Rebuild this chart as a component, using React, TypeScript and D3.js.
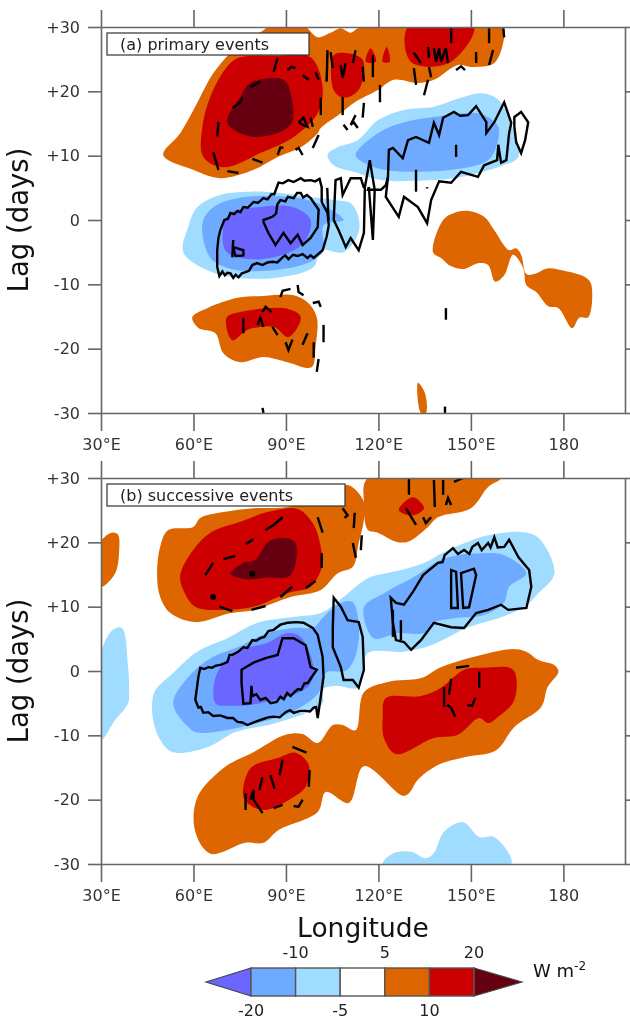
import React from 'react'
import * as d3 from 'd3'

type Pt = [number, number]

const lonTicks = [30, 60, 90, 120, 150, 180]
const lagTicks = [30, 20, 10, 0, -10, -20, -30]
const legendLevels = [-20, -10, -5, 5, 10, 20]

const PURPLE = '#6a66ff'
const BLUE = '#6eaaff'
const SKY = '#a0dcff'
const ORANGE = '#dd6600'
const RED = '#cc0000'
const DARK = '#660011'
const legendColors = [BLUE, SKY, '#ffffff', ORANGE, RED]

// panel (a) shaded regions, [lon, lag]
const aSkyUpper: Pt[] = [[103.5,10.1],[106.8,11.3],[113.3,12.4],[119.8,15.5],[128.3,17.1],[138,17.6],[146.8,19],[153.3,19.7],[158.9,18.7],[164.1,13.5],[165.4,9.8],[160.5,8.5],[152.3,7.3],[144.5,6.5],[131.5,6.1],[120.8,6.2],[113.3,7.3],[105.5,8.5]]
const aBlueUpper: Pt[] = [[112.6,10.1],[119.8,13.5],[128.3,15.2],[138,16],[147.8,16.6],[154.3,16.3],[158.9,14.5],[158.2,11.3],[155.6,9.3],[149.1,8.2],[133.8,7.5],[121.8,7.8],[115.3,8.9]]
const aSkyLower: Pt[] = [[56.7,-5],[58.3,-1.1],[61.2,2],[68.7,3.9],[78.5,4.4],[88.2,4.2],[97,3.6],[105.5,3.1],[111,2.6],[113.3,0.8],[113.6,-1.9],[108.7,-5],[101.3,-4.7],[99,-7.3],[88.2,-8.9],[75.2,-9],[64.5,-7.8]]
const aBlueLower: Pt[] = [[63.2,0],[66.4,2],[74.3,3.4],[90.5,3.6],[100.3,2.6],[108.7,0],[102.2,-0.8],[102.2,-4.7],[99,-6.2],[90.5,-7.5],[74.3,-7.8],[66.1,-6.2],[63.2,-3.1]]
const aPurple: Pt[] = [[69.7,-1.1],[72,1.1],[80.8,2],[92.5,2],[98,0],[95.7,-3.6],[86,-5.8],[75.2,-5.9],[70.3,-4.7]]
const aOrangeUpper: Pt[] = [[50.2,10.1],[55.7,13.5],[61.2,18.2],[66.4,22.8],[73,26.4],[82.7,29.5],[84.3,30],[96.4,30],[97,29.8],[100.3,28.4],[104.5,29.1],[107.8,29.8],[111,29.1],[113.3,29.8],[114.9,30],[160.5,30],[160.8,28.4],[157.6,24.4],[150,23.8],[145.8,24.1],[138,21.8],[132.8,21.3],[125,21.8],[119.8,20.2],[112,18.2],[107.8,16.6],[101.3,14.3],[100.3,13.5],[94.8,11.3],[87.3,9.8],[79.5,7.8],[68.7,6.5],[59.9,7.8]]
const aRedUpper: Pt[] = [[62.9,14.5],[66.4,20.2],[72,24.4],[75.2,25.3],[87.3,25.5],[98,25.3],[101.9,20.7],[100.3,16.6],[92.5,12.9],[81.7,10.4],[69.7,8.2],[63.2,9.8]]
const aDark: Pt[] = [[71,15.1],[75.2,19.1],[78.5,21.3],[89.2,21.8],[91.8,19.1],[91.5,14.8],[79.5,12.9]]
const aRedMid: Pt[] = [[105.5,25.6],[108.7,26],[114.9,24.9],[113.6,20.2],[108.7,19],[105.5,20.2]]
const aRedTri1: Pt[] = [[117.5,26.7],[119.2,24.6],[115.9,24.6]]
const aRedTri2: Pt[] = [[122.7,26.9],[123.7,24.6],[121.4,24.6]]
const aRedTop: Pt[] = [[129.6,30],[151,30],[142.9,24.4],[130.5,24.6]]
const aOrangeLower: Pt[] = [[59.6,-15.1],[64.5,-13.7],[74.3,-12.1],[82.7,-11.8],[92.5,-11.7],[97,-12.8],[100,-15.1],[99.6,-19.7],[98.3,-22.9],[90.5,-22.1],[82.7,-21.3],[75.2,-22.1],[69.7,-20.7],[67.1,-17.6],[61.6,-16.8]]
const aRedLower: Pt[] = [[70.7,-15.2],[75.2,-14.3],[90.5,-13.8],[94.8,-15.1],[90.8,-18.2],[86,-16.6],[77.5,-17.1],[72.6,-18.7]]
const aOrangeRight: Pt[] = [[137.7,-5],[141,0],[144.5,1.1],[149.4,1.4],[154.3,0.5],[157.6,-1.6],[162.4,-4.7],[164.7,-4.4],[166.3,-5.4],[168,-8.4],[170.6,-8.4],[175.1,-7.5],[180.3,-7.9],[187.5,-9],[189.1,-10.1],[188.1,-15.1],[185.2,-15.2],[182.9,-16.8],[178.4,-13.7],[175.1,-13.4],[171.2,-11.2],[168,-10.1],[167,-7.5],[163.7,-5.4],[160.8,-8.6],[157.9,-9.6],[155.6,-7],[152.7,-6.7],[147.8,-7.6],[143.6,-7.2],[140.3,-5.9]]
const aOrangeSliver: Pt[] = [[132.8,-25.3],[135.1,-26.9],[135.4,-30],[133.8,-30]]

// panel (a) significance contours
const aLoopOuter: Pt[] = [[68.4,-8.7],[67.7,-7.3],[67.7,-4.7],[68.1,-2.8],[68.7,-1.6],[70,0],[71.2,0.2],[72,1.1],[73.2,0.9],[74.3,1.4],[75.2,1.2],[76.2,2],[77.6,1.9],[79.5,2.8],[81,2.7],[82.7,3.4],[84,3.2],[85.3,4],[86.2,4],[87.6,5.8],[89,5.7],[90.8,6.2],[92.5,5.9],[94.8,6.5],[96,6.1],[98,6.2],[99.5,6],[100.9,6.4],[101.6,5.1],[101.6,2.8],[103.5,1.1],[103.9,-0.8],[103.2,-2.6],[101.9,-4.7],[99,-5.9],[98,-5.5],[97,-5.9],[95.4,-5.3],[93.8,-5.6],[92.3,-5.4],[90.8,-6.1],[89.8,-5.5],[88.9,-5.8],[87.2,-6.6],[85.6,-6.5],[84,-6.6],[82.4,-7],[80.6,-6.7],[79.1,-7],[78,-7.9],[76.9,-8.1],[75.7,-8.3],[74.6,-8.9],[73.7,-8.5],[72.9,-9],[72,-8.3],[71,-8.2],[70.2,-8.6],[69.4,-8]]
const aLoopInner: Pt[] = [[82.7,0],[85.6,0.5],[86.8,1],[87.2,2.4],[88.2,3.1],[89.8,2.9],[90.6,3.6],[92.5,3.4],[93.6,4.2],[94.8,4.2],[95.6,3.5],[96.8,3.9],[98,3.4],[100.6,1.6],[100.3,-1.1],[98,-2.8],[95.4,-3.9],[93.8,-2.3],[91.5,-3.6],[89.2,-2],[86.6,-3.9],[84.3,-2],[82.7,-0.3]]
const aLoopSmall: Pt[] = [[72.9,-4.2],[76.2,-4.7],[76.2,-5.5],[73.6,-5.6]]
const aLoopBig: Pt[] = [[123.4,10.9],[124.7,11.2],[127.9,9.6],[129.6,12.4],[132.2,12.9],[136.4,12],[138,15.1],[139.7,13.2],[141,15.9],[144.5,16.8],[146.5,16.2],[149.1,16.3],[151.7,17.7],[155,15.2],[155,13.5],[157.6,15.2],[160.8,18.3],[163.1,15.1],[162.4,13.5],[161.5,9.3],[159.8,8.9],[158.9,11.7],[158.5,9.3],[154.3,8.5],[152.3,6.7],[146.8,7.5],[143.6,5.8],[139.7,6],[137.1,3.1],[135.8,-0.5],[132.8,2],[128.3,3.6],[126.6,0.5],[122.4,3.6],[123.1,6.7]]
const aLoopRing: Pt[] = [[164.1,16],[166.3,16.8],[168.6,15.2],[167.6,12.4],[166.3,10.4],[164.7,12.1],[164.1,14.5]]
const aWiggleUpper: Pt[] = [[105.5,0],[106.1,6.2],[107.8,6.5],[108.4,3.9],[111,6.5],[114.3,6.5],[115.3,5]]
const aWiggleLower: Pt[] = [[105.5,0],[107.1,-1.6],[109.4,-4.2],[111,-2.8],[113.6,-4.7],[115.3,-2],[115.6,5.1],[117.2,9.3],[118.8,4.7],[118.2,-3.1],[116.9,5.1],[116.6,4.7],[120.8,4.7],[122.4,5.4],[123.1,6.7]]
const aThickSeg: Pt[] = [[103.4,5],[103.8,0]]

const aDashes: Pt[][] = [
  [[86,23],[87.3,25.2]], [[90.5,23.3],[91.8,23.8],[93.1,23.6]], [[95.4,22.5],[97.4,21.8]], [[99.6,23],[100.6,21.8]],
  [[101.3,19],[101.3,16.3]], [[94.1,15.2],[95.7,15.9],[97,14.5],[95.4,14.8],[94.1,15.2]], [[98,15.9],[98.7,14.5]],
  [[100.6,13.2],[98.7,11.2]], [[95.4,10.1],[94.1,11.2],[93.1,10.9]], [[87.3,10.1],[88.2,11.3],[89.2,11.2]],
  [[79.1,9.5],[82.4,8.9]], [[71,7.6],[74.6,7.3]], [[66.4,10.6],[68.1,7.8]], [[68.1,15.2],[67.7,13]],
  [[72.6,17.4],[75.2,18.3],[75.9,19]], [[78.5,20.7],[81.7,21.5]],
  [[103.5,26.4],[103.2,21.5]], [[104.5,26.1],[105.2,23.6]], [[107.8,24.1],[108.4,22.1],[109.4,24.4]],
  [[112.6,26.4],[111.7,24.4]], [[114.9,23.8],[115.3,21.5]], [[118.2,25.6],[118.2,22.2]], [[108.4,19.1],[108.4,16.3]],
  [[115.3,18.2],[114.9,15.9]], [[112.6,16.3],[111,14.8],[112,15.2],[113.3,14.3]], [[108.7,14.8],[110,14]],
  [[120.5,21],[120.5,18.3]], [[143.6,29.8],[143.6,27.5]], [[155.9,29.8],[155.9,27.5]], [[160.5,29.8],[160.8,28.4]],
  [[131.5,26],[133.8,24.4]], [[131.5,23.6],[132.2,21]], [[136.1,26.9],[136.4,25.2]], [[136.4,23.8],[137.1,22.2]],
  [[136.1,21.8],[134.8,19.4]], [[138,26.7],[138.7,24.6],[139.7,26.7],[140.3,24.6],[141.9,26.7],[142.6,24.4]],
  [[145.2,23.3],[146.8,23.9],[148.1,23.3]], [[151.7,26.1],[151.7,24.4]], [[157.2,26.4],[155.9,24.1]],
  [[88.2,-12],[88.9,-11],[91.5,-10.7]], [[93.8,-10.1],[94.1,-11.2],[95.7,-11.7]], [[98.7,-12.9],[100.6,-12.7],[101.3,-13.5]],
  [[102.2,-16.3],[102.2,-19]], [[99,-19],[99,-21.4]], [[100.6,-21.6],[100,-23.6]], [[97,-17.6],[95.4,-19.4]],
  [[89.9,-19],[90.8,-20.2],[92.1,-18.6]], [[85.6,-16.6],[87.3,-17.9]], [[80.8,-16.3],[81.7,-15.2],[82.7,-16.6]],
  [[82.4,-14.3],[83.4,-13.5],[85.3,-14.3]], [[76.2,-15.2],[76.2,-17.6]], [[82.4,-29.2],[82.7,-30]],
  [[141.9,-13.7],[141.9,-15.5]], [[141.6,-29],[141.6,-30]], [[145.2,11.7],[145.2,9.8]], [[132.2,7.8],[132.2,4.4]],
  [[135.8,5.1],[135.8,4.9]], [[72.9,-3.1],[72.6,-5.8]]
]

// panel (b) shaded regions
const bSkyLeft: Pt[] = [[30,2.8],[33.9,6.4],[36.8,6.7],[38.8,0.6],[39.1,-3],[38.8,-5],[34.6,-7.6],[30,-10.7]]
const bSkyMain: Pt[] = [[46.6,-5],[47.6,-3],[53.4,-0.3],[61.2,3],[71,5.1],[80.8,7.5],[92.5,8.4],[101.3,9],[108.7,11.5],[114.3,13.7],[117.5,14.6],[127.3,15.7],[134.8,16.8],[141.3,18.5],[149.1,20.1],[155.6,21.1],[166.3,21.6],[171.9,20.7],[177.1,15.2],[171.9,12.1],[167.3,10],[158.9,8.2],[149.1,6.8],[137.1,4],[128.3,3],[116.6,2.8],[114.9,0.2],[113.3,-2.6],[106.1,-2.3],[101.9,-2.9],[101.9,-5],[86.6,-8.1],[73.6,-9.5],[64.8,-11.8],[53.1,-12.6],[49.2,-10.7],[46.9,-7.6]]
const bSkyBottom: Pt[] = [[121.4,-30],[125,-28.3],[130.6,-28.1],[135.4,-29.1],[138,-28.3],[141.3,-25],[147.5,-23.5],[152.7,-25.8],[157.6,-25.8],[163.1,-30]]
const bBlueMain: Pt[] = [[53.4,-5],[59,-0.6],[66.4,2.2],[74.3,3.7],[84,5.9],[92.5,6.7],[99,6.8],[102.2,8.4],[107.8,10.6],[111.7,10.7],[113.6,4.8],[110,0.2],[102.9,-0.3],[100.6,-3.4],[93.1,-6.1],[82.4,-7.9],[61.6,-9.6],[58.3,-8.7]]
const bBlueRight: Pt[] = [[115.3,9.9],[121.8,12.1],[131.5,14.6],[140.3,17.3],[145.8,18],[153.3,18.3],[160.8,18],[168,15.2],[162.4,13.1],[160.8,10.7],[154.3,8.7],[144.5,8.2],[138,7.5],[134.8,5.9],[126.3,5.9],[118.5,5.1]]
const bPurple: Pt[] = [[67.1,-5],[67.7,-0.3],[74.3,3],[84,4.4],[90.5,5.9],[94.8,5.3],[99,0.2],[97,-2.5],[81.7,-5],[72,-5.4]]
const bOrangeLeft: Pt[] = [[30,20.1],[33.6,21.5],[35.5,21.2],[35.9,18.8],[34.6,15.2],[30,13.1]]
const bOrangeBig: Pt[] = [[48.2,14.6],[49.2,19.3],[51.8,21.9],[59.9,22.4],[62.2,23.8],[69.7,24.7],[79.5,25.3],[90.5,25.5],[101.3,27],[110,28.9],[115.3,26.3],[115.3,23.5],[113.6,19.9],[111.7,16.2],[106.8,15.2],[101.3,12.6],[91.5,11.5],[79.5,9.5],[72,9],[60.6,7.6],[52.5,9],[49.2,11.5]]
const bOrangeTop: Pt[] = [[116.6,30],[159.8,30],[155.6,28.6],[150,25.3],[139.3,23.9],[136.1,22.4],[129.6,20.1],[125.7,20.1],[119.8,21.5],[116.6,21.9],[115.3,26.1]]
const bRedTop: Pt[] = [[126.6,25],[131.2,27],[134.8,25.3],[131.2,24.2]]
const bRedBig: Pt[] = [[55.7,14.9],[59.9,18.8],[65.5,21.5],[75.2,23.2],[84,24.7],[93.8,25.2],[98.7,23],[101.3,19.3],[101.6,16.2],[98,13.1],[90.5,12.1],[79.5,10],[69.7,9.5],[60.6,10],[56.7,12.6]]
const bDark: Pt[] = [[72,15.2],[76.2,16.8],[80.1,17.3],[84.3,20.1],[89.2,20.7],[93.1,19.9],[91.5,14.9],[84,14.5],[76.2,14.3]]
const bOrangeLower: Pt[] = [[60.6,-25],[61.2,-19.7],[70.3,-14.9],[79.1,-12.7],[89.9,-9.9],[95.4,-9.8],[100.3,-11.2],[105.2,-8.4],[108.4,-8.4],[112.6,-9.2],[115.3,-3.3],[123.1,-1.7],[133.8,-1.1],[140.3,0.6],[153.3,2.5],[163.1,3.4],[168,3],[171.9,1.7],[177.1,0.9],[178.4,-0.1],[174.9,-2.5],[172.8,-5.6],[164.1,-8.7],[158.2,-12.3],[147.8,-13.4],[139.3,-14.6],[132.8,-16.9],[129.9,-19],[127.9,-19.4],[115.3,-14.8],[110.4,-20.5],[102.9,-18.8],[100.3,-21.9],[87.6,-24.7],[82.7,-26.7],[76.9,-26.7],[65.5,-28.4]]
const bRedLower: Pt[] = [[76.2,-19.6],[78.5,-15.1],[87.6,-13.5],[93.1,-12.7],[97.4,-14.6],[96.4,-18],[92.1,-19.7],[83.4,-21.6],[79.1,-21.1]]
const bRedRight: Pt[] = [[121.4,-7.3],[122.4,-4.2],[133.8,-3.9],[140.3,-2.6],[147.8,0.2],[154.3,0.5],[163.7,0.2],[164.1,-4.5],[158.9,-7.1],[155.6,-8.1],[152.7,-7.3],[145.8,-9.9],[138,-10.4],[125.7,-12.9],[121.8,-10.4]]

// panel (b) contours
const bLoopOuter: Pt[] = [[60.6,-4.5],[61.6,-0.9],[62.2,0.5],[63.5,0.3],[64.8,0.6],[66,0.5],[67.1,0.8],[69,1],[71,1.4],[71.7,2.5],[72.6,2.5],[74.5,3],[76.2,3.7],[77.5,3.6],[79.1,4.8],[80.3,4.7],[81.7,5.1],[83,5.3],[84.3,6.2],[86,6.4],[88.2,7.2],[90.5,7.5],[93.4,7.6],[95.7,7.5],[98.7,6.7],[100.3,5.6],[101.9,2.2],[102.2,-0.9],[101.3,-4],[100.3,-7.3],[99.8,-5.6],[99,-5.7],[97.8,-6.3],[96.4,-6.2],[94.6,-6.2],[92.5,-6.5],[91.3,-6.1],[89.9,-6.4],[88,-7.2],[86,-7.1],[84.2,-7.2],[82.4,-7.5],[80,-7.9],[77.5,-8.4],[75.8,-8],[74.3,-7.9],[72.8,-7.3],[71,-7.3],[68.7,-6.9],[66.4,-7],[64.8,-6.4],[63.2,-6.5],[62.4,-5.6],[61.6,-5.7]]
const bLoopInner: Pt[] = [[75.6,0.2],[79.5,1.3],[83.4,2],[87.3,2.5],[88.9,5.1],[92.5,5.1],[96.4,4],[98,0.6],[100,0.2],[97,-1.9],[96,-1.9],[95,-2.9],[93.9,-2.8],[92.5,-3.4],[91.5,-3.9],[90.4,-3.4],[89.3,-4.4],[88.2,-4],[87,-4.8],[85,-5],[83.4,-4.2],[81.7,-4.5],[80.4,-3.6],[79.1,-3.9],[78.8,-2.3],[78.5,-5],[76.2,-5.1],[75.6,-1.9]]
const bLoopMid: Pt[] = [[105.5,11.4],[107.8,10],[110,7.9],[113.6,7.6],[114.9,5.3],[115.3,0.2],[113.6,-2.6],[111.7,-1.4],[108.7,-1.4],[107.8,0.6],[105.2,3.7],[105.2,6.8]]
const bLoopRight: Pt[] = [[124,11.4],[125.7,10.6],[128.3,10.3],[131.2,12.3],[134.5,14.9],[139.3,16.8],[140.8,16.9],[141.5,18],[144.2,19.1],[145.8,18.2],[147.8,18.8],[149.5,18.2],[150.5,19.3],[152.3,19.9],[153.5,18.8],[155.6,19.9],[156.4,19.2],[157.6,20.8],[158.7,19.2],[160.8,19.3],[162.4,20.4],[165.4,17.7],[168.9,15.7],[169.6,13.1],[168,9.8],[162.1,9.5],[159.8,10.3],[155.6,9.5],[151.7,9],[147.8,6.7],[143.6,6.8],[138,7.5],[133.8,4.8],[130.6,3.3],[128.3,4.5],[125.7,4.8],[124.7,7.5]]
const bBoxLeft: Pt[] = [[143.6,15.7],[145.2,15.4],[145.8,9.8],[143.6,9.8]]
const bBoxRight: Pt[] = [[146.8,15.2],[151,15.9],[151.7,14.9],[149.4,9.9],[147.5,9.8]]

const bDashes: Pt[][] = [
  [[63.8,14.9],[66.4,16.8]], [[69.7,17.4],[73.6,17.9]], [[76.9,19.7],[79.5,20.5]], [[83.4,21.9],[86,22.7],[88.9,23.9]],
  [[68.4,10],[72.6,9.3]], [[78.8,9.5],[83.4,10.1]], [[88.2,11.5],[92.1,13.1]], [[96.4,12.9],[99.6,14]],
  [[101.6,18.3],[101.6,16]], [[100.3,23.9],[101.9,21.5]], [[108.4,25.3],[110,24.2],[109,23.8]], [[112.3,24.6],[112,22.2]],
  [[114.6,21.1],[114.3,18.8]], [[111.7,19.9],[112.7,17.6]], [[129.9,30],[129.9,27.4]], [[138,29.7],[138.3,25.5]],
  [[141,29.7],[141,27.4]], [[141.9,25.8],[142.6,26.9],[143.6,25.8]], [[144.5,29.4],[147.5,30]], [[128.9,25.3],[132.2,22.7]],
  [[134.5,23.9],[135.4,23],[137.1,23.9]], [[145.2,0.5],[149.4,0.8]], [[152.7,-0.1],[152.7,-2.6]], [[143.6,-1.2],[142.9,-3.7]],
  [[141.3,-2.5],[141.3,-5.6]], [[142.3,-5.3],[143.6,-5.7],[144.9,-7.1]], [[148.8,-5.3],[150.4,-5.4],[151.4,-4.2]],
  [[92.1,-11.8],[96.7,-12.7]], [[97.7,-15.4],[97.4,-18]], [[88.9,-13.8],[87.9,-16.2]], [[82.4,-16.5],[81.4,-18.5]],
  [[85,-16.2],[86.3,-18.3]], [[76.9,-19],[76.9,-21.6]], [[78.5,-20],[79.5,-18.5],[79.5,-20],[82.4,-22.1]],
  [[86,-21.3],[88.9,-20.8]], [[92.5,-21],[94.1,-21.1],[95.4,-20]], [[124.7,9.5],[124.7,5.3]], [[127.3,7.9],[127.3,4.8]]
]
const bDots: Pt[] = [[66.4,11.5],[79.1,15.1]]

const FONT = '"DejaVu Sans", sans-serif'
const x = d3.scaleLinear().domain([30, 200]).range([101, 625])
const y = d3.scaleLinear().domain([-30, 30]).range([386, 0])
const line = d3.line<Pt>().x(d => x(d[0])).y(d => y(d[1]))
const closed = d3.line<Pt>().x(d => x(d[0])).y(d => y(d[1])).curve(d3.curveLinearClosed)
const smooth = d3.line<Pt>().x(d => x(d[0])).y(d => y(d[1])).curve(d3.curveCatmullRomClosed.alpha(0.5))

function Panel({ id, top, label, boxWidth, shapes, loops, opens, dashes, dots }: any) {
  const ref = React.useRef<SVGGElement>(null)

  React.useEffect(() => {
    const g = d3.select(ref.current)
    g.selectAll('*').remove()
    const lonLabel = (v: any) => (v === 180 ? '180' : `${v}°E`)
    const lagLabel = (v: any) => (v > 0 ? `+${v}` : `${v}`)
    const style = (s: any) => {
      s.select('.domain').attr('stroke', '#666').attr('stroke-width', 1.6)
      s.selectAll('.tick line').attr('stroke', '#666').attr('stroke-width', 1.6)
      s.selectAll('text').attr('fill', '#333').attr('font-size', 16).attr('font-family', FONT)
    }
    g.append('g').attr('transform', 'translate(0,386)')
      .call(d3.axisBottom(x).tickValues(lonTicks).tickSize(18).tickSizeOuter(0).tickPadding(8).tickFormat(lonLabel))
      .call(style)
    g.append('g')
      .call(d3.axisTop(x).tickValues(lonTicks).tickSize(17).tickSizeOuter(0).tickFormat(() => ''))
      .call(style)
    g.append('g').attr('transform', 'translate(101,0)')
      .call(d3.axisLeft(y).tickValues(lagTicks).tickSize(13).tickSizeOuter(0).tickPadding(8).tickFormat(lagLabel))
      .call(style)
    g.append('g').attr('transform', 'translate(625,0)')
      .call(d3.axisRight(y).tickValues(lagTicks).tickSize(5).tickSizeOuter(0).tickFormat(() => ''))
      .call(style)
  }, [])

  return (
    <g transform={`translate(0,${top})`}>
      <clipPath id={id}>
        <rect x={101} y={0} width={524} height={386} />
      </clipPath>
      <g clipPath={`url(#${id})`}>
        {shapes.map((s: any, i: number) => (
          <path key={i} d={smooth(s.pts) as string} fill={s.fill} />
        ))}
        <g fill="none" stroke="#000" strokeWidth={2.4} strokeLinejoin="miter">
          {loops.map((l: Pt[], i: number) => (
            <path key={i} d={closed(l) as string} />
          ))}
          {opens.map((l: Pt[], i: number) => (
            <path key={i} d={line(l) as string} />
          ))}
          {dashes.map((l: Pt[], i: number) => (
            <path key={i} d={line(l) as string} />
          ))}
        </g>
        {dots.map((d: Pt, i: number) => (
          <circle key={i} cx={x(d[0])} cy={y(d[1])} r={3} fill="#000" />
        ))}
      </g>
      <g ref={ref} />
      <rect x={107} y={6} width={boxWidth} height={22} fill="#fff" stroke="#333" strokeWidth={1.2} />
      <text x={120} y={23} fontSize={16} fontFamily={FONT} fill="#222">{label}</text>
      <text
        transform={`translate(28,${193}) rotate(-90)`}
        textAnchor="middle"
        fontSize={27.5}
        fontFamily={FONT}
        fill="#111"
      >
        Lag (days)
      </text>
    </g>
  )
}

function Legend() {
  const lx = d3.scalePoint<number>().domain(legendLevels).range([251, 474])
  const yTop = 968
  const yBot = 996
  const yMid = (yTop + yBot) / 2
  return (
    <g fontFamily={FONT} fontSize={16} fill="#222">
      <polygon points={`206,${yMid} 251,${yTop} 251,${yBot}`} fill={PURPLE} stroke="#444" strokeWidth={1.2} />
      <polygon points={`522,${yMid} 474,${yTop} 474,${yBot}`} fill={DARK} stroke="#444" strokeWidth={1.2} />
      {legendColors.map((c, i) => (
        <rect
          key={c}
          x={lx(legendLevels[i]) as number}
          y={yTop}
          width={(lx(legendLevels[i + 1]) as number) - (lx(legendLevels[i]) as number)}
          height={yBot - yTop}
          fill={c}
          stroke="#555"
          strokeWidth={1.4}
        />
      ))}
      {legendLevels.map((v, i) => (
        <text key={v} x={lx(v) as number} y={i % 2 ? 958 : 1016} textAnchor="middle">{v}</text>
      ))}
      <text x={533} y={977} fontSize={18} fill="#111">
        W m<tspan dy={-7} fontSize={12}>-2</tspan>
      </text>
    </g>
  )
}

function App() {
  const aShapes = [
    { pts: aSkyUpper, fill: SKY }, { pts: aSkyLower, fill: SKY }, { pts: aBlueUpper, fill: BLUE }, { pts: aBlueLower, fill: BLUE },
    { pts: aPurple, fill: PURPLE }, { pts: aOrangeUpper, fill: ORANGE }, { pts: aOrangeLower, fill: ORANGE }, { pts: aOrangeRight, fill: ORANGE },
    { pts: aOrangeSliver, fill: ORANGE }, { pts: aRedUpper, fill: RED }, { pts: aRedMid, fill: RED }, { pts: aRedTri1, fill: RED },
    { pts: aRedTri2, fill: RED }, { pts: aRedTop, fill: RED }, { pts: aRedLower, fill: RED }, { pts: aDark, fill: DARK }
  ]
  const bShapes = [
    { pts: bSkyLeft, fill: SKY }, { pts: bSkyMain, fill: SKY }, { pts: bSkyBottom, fill: SKY }, { pts: bBlueMain, fill: BLUE },
    { pts: bBlueRight, fill: BLUE }, { pts: bPurple, fill: PURPLE }, { pts: bOrangeLeft, fill: ORANGE }, { pts: bOrangeBig, fill: ORANGE },
    { pts: bOrangeTop, fill: ORANGE }, { pts: bOrangeLower, fill: ORANGE }, { pts: bRedTop, fill: RED }, { pts: bRedBig, fill: RED },
    { pts: bRedLower, fill: RED }, { pts: bRedRight, fill: RED }, { pts: bDark, fill: DARK }
  ]
  return (
    <svg width={630} height={1021} style={{ position: 'absolute', left: 0, top: 0, display: 'block', background: '#fff', filter: 'blur(0.5px)' }}>
      <Panel
        id="clipA"
        top={27}
        label="(a) primary events"
        boxWidth={202}
        shapes={aShapes}
        loops={[aLoopOuter, aLoopInner, aLoopSmall, aLoopBig, aLoopRing]}
        opens={[aWiggleUpper, aWiggleLower, aThickSeg]}
        dashes={aDashes}
        dots={[]}
      />
      <Panel
        id="clipB"
        top={478}
        label="(b) successive events"
        boxWidth={238}
        shapes={bShapes}
        loops={[bLoopOuter, bLoopInner, bLoopMid, bLoopRight, bBoxLeft, bBoxRight]}
        opens={[]}
        dashes={bDashes}
        dots={bDots}
      />
      <text x={363} y={937} textAnchor="middle" fontSize={26.5} fontFamily={FONT} fill="#111">Longitude</text>
      <Legend />
    </svg>
  )
}

export default App
